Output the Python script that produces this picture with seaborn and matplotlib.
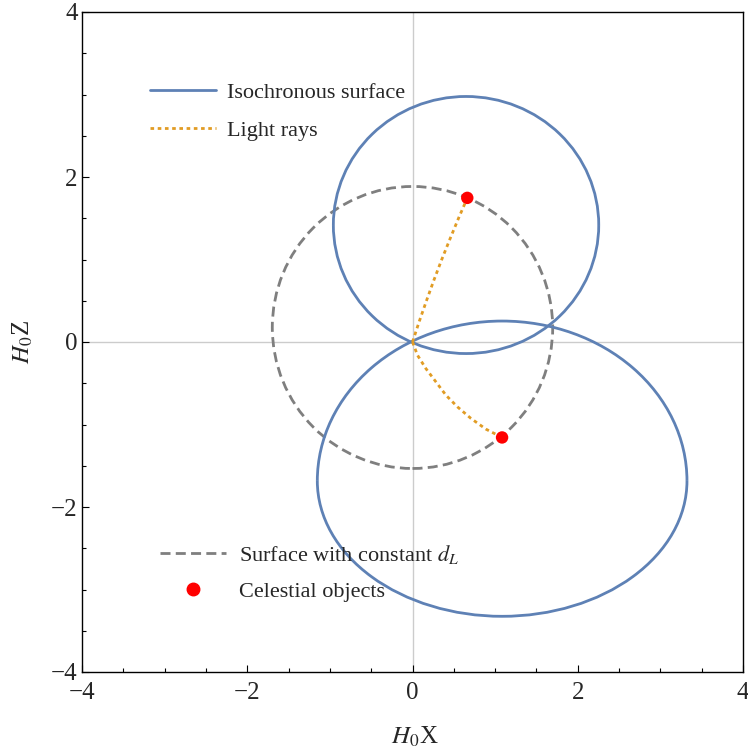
import numpy as np
import pandas as pd
import matplotlib
matplotlib.use("Agg")
import matplotlib.pyplot as plt
from matplotlib.lines import Line2D
from matplotlib.patches import Arc, Ellipse
import seaborn as sns

# isochronous surfaces (upper one, lower one):
# centre, half width, half height above and below the centre
iso_cx = [0.648, 1.085]
iso_cy = [1.418, -1.684]
iso_rx = [1.606, 2.237]
iso_ry_top = [1.558, 1.938]
iso_ry_bottom = [1.558, 1.641]

# surface with constant luminosity distance
dl_cx, dl_cy = 0.0, 0.176
dl_rx, dl_ry = 1.697, 1.709

# light rays from the observer to the two objects
ray_up_x = [0.0, 0.082, 0.169, 0.259, 0.354, 0.454, 0.557, 0.664]
ray_up_y = [0.0, 0.25, 0.5, 0.75, 1.0, 1.25, 1.5, 1.747]
ray_low_x = [0.0, 0.061, 0.162, 0.284, 0.405, 0.545, 0.708, 0.890, 1.084]
ray_low_y = [0.0, -0.161, -0.322, -0.484, -0.645, -0.787, -0.927, -1.057, -1.157]

# celestial objects
obj_x = [0.663, 1.084]
obj_y = [1.747, -1.157]

BLUE = "#5e81b5"
ORANGE = "#e19c24"
GRAY = "#7f7f7f"
RAY_DASH = [1.3, 1.3]
DL_DASH = [3.6, 1.9]

sns.set_style("ticks")
plt.rcParams["font.family"] = ["Liberation Serif", "DejaVu Serif"]
plt.rcParams["mathtext.fontset"] = "stix"
plt.rcParams["axes.unicode_minus"] = True

fig = plt.figure(figsize=(7.48, 7.55), dpi=100)
ax = fig.add_axes([82 / 748, 1 - 672 / 755, 661 / 748, 660 / 755])

ax.axhline(0, color="#cccccc", lw=1.0, zorder=0)
ax.axvline(0, color="#cccccc", lw=1.0, zorder=0)

# constant d_L surface
ax.add_patch(Ellipse((dl_cx, dl_cy), 2 * dl_rx, 2 * dl_ry, fill=False, edgecolor=GRAY,
                     lw=2.0, linestyle=(0, DL_DASH), zorder=2))

# isochronous surfaces: upper and lower half drawn separately
for cx, cy, rx, rt, rb in zip(iso_cx, iso_cy, iso_rx, iso_ry_top, iso_ry_bottom):
    ax.add_patch(Arc((cx, cy), 2 * rx, 2 * rt, theta1=0, theta2=180,
                     edgecolor=BLUE, lw=2.0, zorder=3))
    ax.add_patch(Arc((cx, cy), 2 * rx, 2 * rb, theta1=180, theta2=360,
                     edgecolor=BLUE, lw=2.0, zorder=3))

for xs, ys in [(ray_up_x, ray_up_y), (ray_low_x, ray_low_y)]:
    df = pd.DataFrame({"x": xs, "y": ys})
    sns.lineplot(data=df, x="x", y="y", sort=False, estimator=None, ax=ax,
                 color=ORANGE, lw=2.0, zorder=4)
    ax.lines[-1].set_dashes(RAY_DASH)

sns.scatterplot(x=obj_x, y=obj_y, color="red", s=80, edgecolor="none", zorder=5, ax=ax)

ax.set_xlim(-4, 4)
ax.set_ylim(-4, 4)
ax.set_xticks([-4, -2, 0, 2, 4])
ax.set_yticks([-4, -2, 0, 2, 4])
ax.set_xticks(np.arange(-4, 4.01, 0.5), minor=True)
ax.set_yticks(np.arange(-4, 4.01, 0.5), minor=True)
ax.tick_params(which="both", direction="in", top=False, right=False, width=0.8, color="black")
ax.tick_params(which="major", length=5)
ax.tick_params(which="minor", length=3)
ax.tick_params(axis="x", labelsize=18, pad=7)
ax.tick_params(axis="y", labelsize=18, pad=3)
for sp in ax.spines.values():
    sp.set_visible(True)
    sp.set_color("black")
    sp.set_linewidth(1.0)

ax.set_xlabel(r"$H_0$X", fontsize=18)
ax.set_ylabel(r"$H_0$Z", fontsize=18)
ax.xaxis.label.set_va("center")
ax.yaxis.label.set_va("center")
ax.xaxis.set_label_coords(0.5 + 2 / 661, -65 / 660)
ax.yaxis.set_label_coords(-59 / 661, 0.5)

h1 = [Line2D([], [], color=BLUE, lw=2.0),
      Line2D([], [], color=ORANGE, lw=2.0, dashes=RAY_DASH)]
leg1 = ax.legend(h1, ["Isochronous surface", "Light rays"], loc="upper left",
                 bbox_to_anchor=(68 / 661, 590 / 660), frameon=False, fontsize=16,
                 borderpad=0, borderaxespad=0, handlelength=2.95, handletextpad=0.5,
                 labelspacing=0.8)
ax.add_artist(leg1)

h2 = [Line2D([], [], color=GRAY, lw=2.0, dashes=DL_DASH),
      Line2D([], [], color="red", marker="o", ms=9, ls="none")]
ax.legend(h2, [r"Surface with constant $d_L$", "Celestial objects"], loc="upper left",
          bbox_to_anchor=(78 / 661, 129 / 660), frameon=False, fontsize=16,
          borderpad=0, borderaxespad=0, handlelength=2.95, handletextpad=0.6,
          labelspacing=0.7, numpoints=1)

fig.savefig("out.png", dpi=100)
